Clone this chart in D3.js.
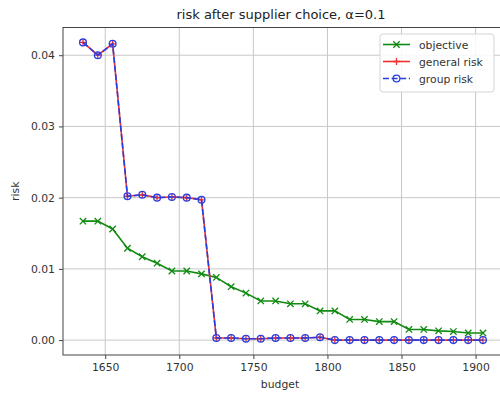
<!DOCTYPE html>
<html>
<head>
<meta charset="utf-8">
<script src="https://cdn.jsdelivr.net/npm/d3@7"></script>
<style>
  html, body { margin: 0; padding: 0; background: #fff; }
  svg { display: block; font-family: "DejaVu Sans", sans-serif; }
</style>
</head>
<body>
<svg id="chart" width="500" height="395"></svg>
<script>
// Budget levels (x) and the three risk measures at each level
const budget = [1635, 1645, 1655, 1665, 1675, 1685, 1695, 1705, 1715, 1725,
                1735, 1745, 1755, 1765, 1775, 1785, 1795, 1805, 1815, 1825,
                1835, 1845, 1855, 1865, 1875, 1885, 1895, 1905];
const objective = [0.0167, 0.0167, 0.0156, 0.0129, 0.0117, 0.0108, 0.0097, 0.0097, 0.0093, 0.0088,
                   0.0075, 0.0066, 0.0055, 0.0055, 0.0051, 0.0051, 0.0041, 0.0041, 0.0029, 0.0029,
                   0.0026, 0.0026, 0.0015, 0.0015, 0.0013, 0.0012, 0.0010, 0.0010];
const generalRisk = [0.0418, 0.0400, 0.0416, 0.0202, 0.0204, 0.0200, 0.0201, 0.0200, 0.0197, 0.0003,
                     0.0003, 0.0002, 0.0002, 0.0003, 0.0003, 0.0003, 0.0004, 0.0000, 0.0000, 0.0000,
                     0.0000, 0.0000, 0.0000, 0.0000, 0.0000, 0.0000, 0.0000, 0.0000];
const groupRisk = [0.0418, 0.0400, 0.0416, 0.0202, 0.0204, 0.0200, 0.0201, 0.0200, 0.0197, 0.0003,
                   0.0003, 0.0002, 0.0002, 0.0003, 0.0003, 0.0003, 0.0004, 0.0000, 0.0000, 0.0000,
                   0.0000, 0.0000, 0.0000, 0.0000, 0.0000, 0.0000, 0.0000, 0.0000];
const xTicks = [1650, 1700, 1750, 1800, 1850, 1900];
const yTicks = [0.00, 0.01, 0.02, 0.03, 0.04];
const seriesNames = ["objective", "general risk", "group risk"];

const svg = d3.select("#chart");
const plot = { left: 63, right: 503, top: 27.5, bottom: 355 };

const x = d3.scaleLinear().domain([1621.5, 1918.5]).range([plot.left, plot.right]);
const y = d3.scaleLinear().domain([-0.00209, 0.04389]).range([plot.bottom, plot.top]);

const GREEN = "#108a10", RED = "#f03030", BLUE = "#2a3ee0", GRID = "#c8c8c8", TXT = "#333";

// grid
const grid = svg.append("g");
grid.selectAll("line.vx").data(xTicks).join("line")
  .attr("x1", d => x(d)).attr("x2", d => x(d))
  .attr("y1", plot.top).attr("y2", plot.bottom)
  .attr("stroke", GRID).attr("stroke-width", 1);
grid.selectAll("line.hy").data(yTicks).join("line")
  .attr("x1", plot.left).attr("x2", plot.right)
  .attr("y1", d => y(d)).attr("y2", d => y(d))
  .attr("stroke", GRID).attr("stroke-width", 1);

// axes
const xAxis = d3.axisBottom(x).tickValues(xTicks).tickFormat(d3.format("d")).tickSize(4).tickPadding(4);
const yAxis = d3.axisLeft(y).tickValues(yTicks).tickFormat(d3.format(".2f")).tickSize(4).tickPadding(4);

const gx = svg.append("g").attr("transform", `translate(0,${plot.bottom})`).call(xAxis);
const gy = svg.append("g").attr("transform", `translate(${plot.left},0)`).call(yAxis);
[gx, gy].forEach(g => {
  g.select(".domain").remove();
  g.selectAll(".tick line").attr("stroke", "#444").attr("stroke-width", 1);
  g.selectAll(".tick text").attr("fill", TXT).style("font-size", "10.8px")
    .style("font-family", "DejaVu Sans, sans-serif");
});

// frame
svg.append("rect")
  .attr("x", plot.left).attr("y", plot.top)
  .attr("width", plot.right - plot.left).attr("height", plot.bottom - plot.top)
  .attr("fill", "none").attr("stroke", "#444").attr("stroke-width", 1);

// series
const line = vals => d3.line().x((d, i) => x(budget[i])).y(d => y(d))(vals);
const marks = svg.append("g");

// objective: green solid with x markers
marks.append("path").attr("d", line(objective))
  .attr("fill", "none").attr("stroke", GREEN).attr("stroke-width", 1.6);
const xm = 3.2;
marks.selectAll("path.xo").data(objective).join("path")
  .attr("d", (d, i) => {
    const cx = x(budget[i]), cy = y(d);
    return `M${cx - xm},${cy - xm}L${cx + xm},${cy + xm}M${cx - xm},${cy + xm}L${cx + xm},${cy - xm}`;
  })
  .attr("stroke", GREEN).attr("stroke-width", 1.3).attr("fill", "none");

// general risk: red solid with + markers
marks.append("path").attr("d", line(generalRisk))
  .attr("fill", "none").attr("stroke", RED).attr("stroke-width", 1.6);
const pm = 3.4;
marks.selectAll("path.pl").data(generalRisk).join("path")
  .attr("d", (d, i) => {
    const cx = x(budget[i]), cy = y(d);
    return `M${cx - pm},${cy}L${cx + pm},${cy}M${cx},${cy - pm}L${cx},${cy + pm}`;
  })
  .attr("stroke", RED).attr("stroke-width", 1.3).attr("fill", "none");

// group risk: blue dashed with open circles
marks.append("path").attr("d", line(groupRisk))
  .attr("fill", "none").attr("stroke", BLUE).attr("stroke-width", 1.6)
  .attr("stroke-dasharray", "6,2.6");
marks.selectAll("circle.gr").data(groupRisk).join("circle")
  .attr("cx", (d, i) => x(budget[i])).attr("cy", d => y(d)).attr("r", 3.4)
  .attr("fill", "none").attr("stroke", BLUE).attr("stroke-width", 1.3);

// labels
svg.append("text").attr("x", 281).attr("y", 19).attr("text-anchor", "middle")
  .attr("fill", "#222").style("font-size", "13px").text("risk after supplier choice, α=0.1");
svg.append("text").attr("x", (plot.left + plot.right) / 2 - 3).attr("y", 388).attr("text-anchor", "middle")
  .attr("fill", TXT).style("font-size", "10.8px").text("budget");
svg.append("text").attr("transform", `translate(19,${(plot.top + plot.bottom) / 2}) rotate(-90)`)
  .attr("text-anchor", "middle").attr("fill", TXT).style("font-size", "10.8px").text("risk");

// legend
const lg = svg.append("g").attr("transform", "translate(380,34)");
lg.append("rect").attr("width", 114).attr("height", 58).attr("rx", 3)
  .attr("fill", "white").attr("fill-opacity", 0.85).attr("stroke", "#d4d4d4");
const rows = [10, 27, 44];
seriesNames.forEach((name, k) => {
  const ry = rows[k] + 0.5;
  const row = lg.append("g");
  if (k === 0) {
    row.append("line").attr("x1", 3).attr("x2", 30).attr("y1", ry).attr("y2", ry)
      .attr("stroke", GREEN).attr("stroke-width", 1.6);
    row.append("path").attr("d", `M${16.5 - xm},${ry - xm}L${16.5 + xm},${ry + xm}M${16.5 - xm},${ry + xm}L${16.5 + xm},${ry - xm}`)
      .attr("stroke", GREEN).attr("stroke-width", 1.3);
  } else if (k === 1) {
    row.append("line").attr("x1", 3).attr("x2", 30).attr("y1", ry).attr("y2", ry)
      .attr("stroke", RED).attr("stroke-width", 1.6);
    row.append("path").attr("d", `M${16.5 - pm},${ry}L${16.5 + pm},${ry}M16.5,${ry - pm}L16.5,${ry + pm}`)
      .attr("stroke", RED).attr("stroke-width", 1.3);
  } else {
    row.append("line").attr("x1", 3).attr("x2", 30).attr("y1", ry).attr("y2", ry)
      .attr("stroke", BLUE).attr("stroke-width", 1.6).attr("stroke-dasharray", "6,2.6");
    row.append("circle").attr("cx", 16.5).attr("cy", ry).attr("r", 3.4)
      .attr("fill", "none").attr("stroke", BLUE).attr("stroke-width", 1.3);
  }
  row.append("text").attr("x", 39).attr("y", ry + 4).attr("fill", TXT)
    .style("font-size", "10.8px").text(name);
});
</script>
</body>
</html>
